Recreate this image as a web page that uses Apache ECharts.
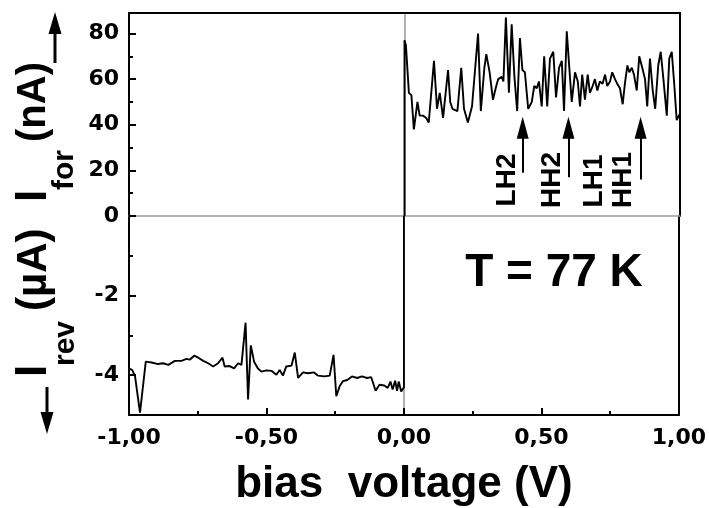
<!DOCTYPE html>
<html><head><meta charset="utf-8">
<script src="https://cdn.jsdelivr.net/npm/echarts@6/dist/echarts.min.js"></script>
<style>html,body{margin:0;padding:0;background:#fff}#c{width:709px;height:508px}</style>
</head><body><div id="c"></div>
<script>
// Forward branch: bias voltage (V) and forward current (nA)
const forwardV = [0.000,0.000,0.005,0.016,0.025,0.034,0.047,0.055,0.067,0.079,0.088,0.107,0.118,0.128,0.140,0.158,0.166,0.174,0.192,0.206,0.216,0.230,0.245,0.267,0.277,0.290,0.297,0.309,0.321,0.333,0.340,0.353,0.359,0.368,0.379,0.389,0.399,0.409,0.419,0.428,0.437,0.449,0.462,0.471,0.480,0.488,0.498,0.507,0.518,0.528,0.540,0.550,0.561,0.571,0.579,0.589,0.597,0.607,0.619,0.629,0.637,0.645,0.655,0.665,0.673,0.683,0.691,0.700,0.709,0.719,0.728,0.736,0.746,0.754,0.764,0.772,0.782,0.792,0.800,0.809,0.816,0.825,0.833,0.843,0.852,0.863,0.873,0.881,0.891,0.901,0.910,0.921,0.930,0.939,0.952,0.961,0.970,0.979,0.988,1.000];
const forwardI = [0,77,75,54,53,38,50,44,44,43,41,68,47,54,43,64,50,47,46,65,47,41,48,80,46,65,71,63,51,57,60,61,59,87,54,84,61,46,78,64,63,47,50,57,56,59,48,70,48,69,72,52,65,68,46,81,67,50,63,59,48,62,51,62,54,57,60,55,59,58,62,57,59,63,60,58,56,49,58,66,63,65,62,55,70,65,60,48,69,55,47,66,72,61,44,69,72,58,42,45];
// Reverse branch: bias voltage (V) and reverse current (µA)
const reverseV = [-1.000,-0.988,-0.978,-0.960,-0.939,-0.918,-0.894,-0.876,-0.857,-0.833,-0.809,-0.791,-0.779,-0.763,-0.748,-0.730,-0.712,-0.694,-0.676,-0.660,-0.652,-0.634,-0.618,-0.603,-0.591,-0.576,-0.567,-0.557,-0.545,-0.531,-0.518,-0.500,-0.482,-0.464,-0.452,-0.440,-0.428,-0.409,-0.397,-0.385,-0.367,-0.349,-0.327,-0.313,-0.289,-0.270,-0.256,-0.246,-0.234,-0.222,-0.206,-0.189,-0.170,-0.153,-0.134,-0.119,-0.103,-0.089,-0.071,-0.059,-0.049,-0.041,-0.032,-0.025,-0.019,-0.010,-0.004,0.000,0.000];
const reverseI = [-3.83,-3.87,-4.03,-4.94,-3.66,-3.68,-3.72,-3.70,-3.74,-3.64,-3.64,-3.59,-3.61,-3.51,-3.56,-3.64,-3.70,-3.78,-3.70,-3.56,-3.78,-3.77,-3.83,-3.70,-3.74,-2.68,-4.61,-3.25,-3.66,-3.83,-3.91,-3.88,-3.89,-3.99,-3.87,-4.01,-3.78,-3.76,-3.43,-4.07,-3.93,-3.95,-3.93,-4.01,-4.03,-4.01,-3.49,-4.53,-4.28,-4.15,-4.12,-4.03,-4.07,-4.03,-4.07,-4.05,-4.39,-4.24,-4.26,-4.32,-4.16,-4.36,-4.14,-4.39,-4.16,-4.41,-4.41,-4.30,0];
// Tick labels
const xTickValues = [-1, -0.5, 0, 0.5, 1];
const forwardTickLabels = [0, 20, 40, 60, 80];
const reverseTickLabels = [-2, -4];
// Transition annotations
const transitionNames = ['LH2', 'HH2', 'LH1', 'HH1'];
const arrowV = [0.429, 0.595, 0.857];
const arrowTail = [19, 17, 16];
const arrowEnd = [38.7, 38.7, 38.7];

const chart = echarts.init(document.getElementById('c'));
const black = {color: '#000', width: 2};
const gray = {color: '#9a9a9a', width: 1.5};
const tickFont = {fontFamily: 'DejaVu Sans', fontWeight: 'bold', fontSize: 22, color: '#000'};
const none = {show: false};
function borderAxis(grid, pos, style, extra) {
  return Object.assign({gridIndex: grid, type: 'value', position: pos,
    axisLine: {show: true, onZero: false, lineStyle: style},
    axisTick: none, axisLabel: none, splitLine: none}, extra);
}
const option = {
  animation: false,
  backgroundColor: '#fff',
  grid: [
    {left: 129, right: 29, top: 13, height: 203},
    {left: 129, right: 29, top: 216, height: 202}
  ],
  xAxis: [
    borderAxis(0, 'bottom', gray, {min: -1, max: 1}),
    borderAxis(0, 'top', black, {min: -1, max: 1}),
    {gridIndex: 1, type: 'value', position: 'bottom', min: -1, max: 1, interval: 0.5,
      axisLine: {show: true, onZero: false, lineStyle: black},
      axisTick: {show: true, inside: true, length: 7, lineStyle: black},
      minorTick: {show: true, splitNumber: 2, length: 4, lineStyle: black},
      splitLine: none,
      axisLabel: Object.assign({margin: 12, formatter: v => xTickValues.includes(v) ? v.toFixed(2).replace('.', ',') : ''}, tickFont),
      name: 'bias  voltage (V)', nameLocation: 'middle', nameGap: 48,
      nameTextStyle: {fontFamily: 'Liberation Sans', fontWeight: 'bold', fontSize: 44, color: '#000'}}
  ],
  yAxis: [
    {gridIndex: 0, type: 'value', position: 'left', min: 0, max: 89, interval: 20,
      axisLine: {show: true, onZero: false, lineStyle: black},
      axisTick: {show: true, inside: true, length: 7, lineStyle: black},
      minorTick: {show: true, splitNumber: 2, length: 4, lineStyle: black},
      splitLine: none,
      axisLabel: Object.assign({margin: 10, formatter: v => forwardTickLabels.includes(v) ? String(v) : ''}, tickFont)},
    borderAxis(0, 'right', black, {min: 0, max: 89}),
    borderAxis(0, 'left', gray, {min: 0, max: 89, axisLine: {show: true, onZero: true, lineStyle: gray}}),
    {gridIndex: 1, type: 'value', position: 'left', inverse: true, min: 0, max: 5, interval: 2,
      axisLine: {show: true, onZero: false, lineStyle: black},
      axisTick: {show: true, inside: true, length: 7, lineStyle: black},
      minorTick: {show: true, splitNumber: 2, length: 4, lineStyle: black},
      splitLine: none,
      axisLabel: Object.assign({margin: 10, formatter: v => reverseTickLabels.includes(-v) ? String(-v) : ''}, tickFont)},
    borderAxis(1, 'right', black, {min: 0, max: 5, inverse: true}),
    borderAxis(1, 'left', gray, {min: 0, max: 5, inverse: true, axisLine: {show: true, onZero: true, lineStyle: gray}})
  ],
  series: [
    {type: 'line', xAxisIndex: 0, yAxisIndex: 0, symbol: 'none', z: 5,
      lineStyle: {color: '#000', width: 1.9},
      data: forwardV.map((v, i) => [v, forwardI[i]]),
      markLine: {silent: true, symbol: ['none', 'path://M6,0L12,22L0,22Z'], symbolSize: 22, symbolKeepAspect: true,
        label: none, lineStyle: {color: '#000', width: 2, type: 'solid'},
        data: arrowV.map((v, i) => [{coord: [v, arrowTail[i]]}, {coord: [v, arrowEnd[i]]}])}},
    {type: 'line', xAxisIndex: 2, yAxisIndex: 3, symbol: 'none', z: 5,
      lineStyle: {color: '#000', width: 1.9},
      data: reverseV.map((v, i) => [v, -reverseI[i]])}
  ],
  graphic: [
    {type: 'text', x: 554, y: 273, style: {text: 'T = 77 K', fontFamily: 'Liberation Sans', fontWeight: 'bold', fontSize: 46, fill: '#000', align: 'center', verticalAlign: 'middle'}},
    {type: 'text', x: 507, y: 180, rotation: Math.PI / 2, style: {text: transitionNames[0], fontFamily: 'Liberation Sans', fontWeight: 'bold', fontSize: 28, fill: '#000', align: 'center', verticalAlign: 'middle'}},
    {type: 'text', x: 552, y: 180, rotation: Math.PI / 2, style: {text: transitionNames[1], fontFamily: 'Liberation Sans', fontWeight: 'bold', fontSize: 28, fill: '#000', align: 'center', verticalAlign: 'middle'}},
    {type: 'text', x: 594, y: 181, rotation: Math.PI / 2, style: {text: transitionNames[2], fontFamily: 'Liberation Sans', fontWeight: 'bold', fontSize: 28, fill: '#000', align: 'center', verticalAlign: 'middle'}},
    {type: 'text', x: 623, y: 180, rotation: Math.PI / 2, style: {text: transitionNames[3], fontFamily: 'Liberation Sans', fontWeight: 'bold', fontSize: 28, fill: '#000', align: 'center', verticalAlign: 'middle'}},
    {type: 'group', x: 50, y: 433, rotation: Math.PI / 2, children: [
      {type: 'text', x: 56, y: -16, style: {text: 'I', fontFamily: 'Liberation Sans', fontWeight: 'bold', fontSize: 44, fill: '#000', align: 'left', verticalAlign: 'middle'}},
      {type: 'text', x: 67, y: 16, style: {text: 'rev', fontFamily: 'Liberation Sans', fontWeight: 'bold', fontSize: 30, fill: '#000', align: 'left', verticalAlign: 'middle'}},
      {type: 'text', x: 122, y: -16, style: {text: '(µA)', fontFamily: 'Liberation Sans', fontWeight: 'bold', fontSize: 42, fill: '#000', align: 'left', verticalAlign: 'middle'}},
      {type: 'text', x: 231, y: -16, style: {text: 'I', fontFamily: 'Liberation Sans', fontWeight: 'bold', fontSize: 44, fill: '#000', align: 'left', verticalAlign: 'middle'}},
      {type: 'text', x: 243, y: 15, style: {text: 'for', fontFamily: 'Liberation Sans', fontWeight: 'bold', fontSize: 30, fill: '#000', align: 'left', verticalAlign: 'middle'}},
      {type: 'text', x: 291, y: -16, style: {text: '(nA)', fontFamily: 'Liberation Sans', fontWeight: 'bold', fontSize: 40, fill: '#000', align: 'left', verticalAlign: 'middle'}}
    ]},
    {type: 'line', shape: {x1: 47, y1: 387, x2: 47, y2: 418}, style: {stroke: '#000', lineWidth: 3}},
    {type: 'polygon', shape: {points: [[40.5, 412], [53.5, 412], [47, 434]]}, style: {fill: '#000'}},
    {type: 'line', shape: {x1: 55, y1: 63, x2: 55, y2: 30}, style: {stroke: '#000', lineWidth: 3}},
    {type: 'polygon', shape: {points: [[48.5, 34], [61.5, 34], [55, 12]]}, style: {fill: '#000'}}
  ]
};
chart.setOption(option);
</script>
</body></html>
